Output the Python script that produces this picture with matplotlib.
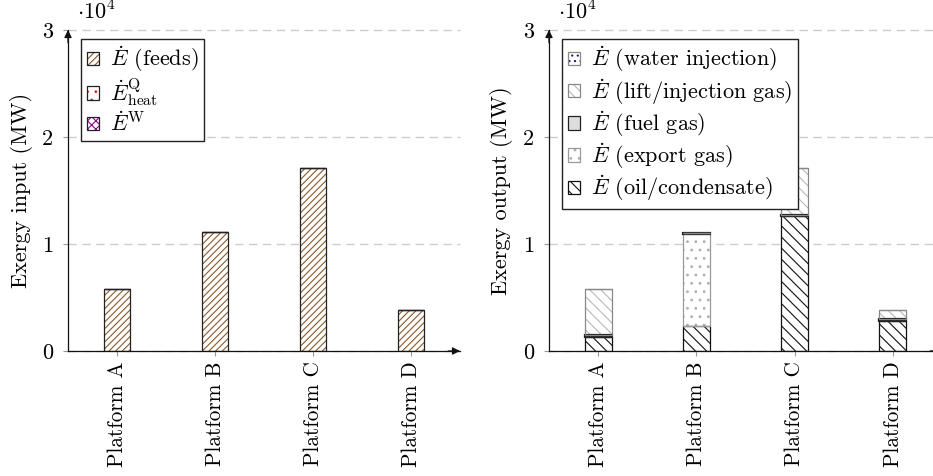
import matplotlib
matplotlib.use("Agg")
import matplotlib.pyplot as plt
from matplotlib.patches import Rectangle
import numpy as np

# ---------------------------------------------------------------- data (MW)
platforms = ["Platform A", "Platform B", "Platform C", "Platform D"]

# exergy input per platform
feeds = [5800, 11100, 17100, 3800]
heat = [0, 0, 0, 0]
work = [0, 0, 0, 0]

# exergy output per platform (stacked bottom -> top)
oil_condensate = [1340, 2360, 12580, 2830]
export_gas = [0, 8570, 0, 0]
fuel_gas = [120, 120, 120, 150]
lift_gas = [4340, 0, 4400, 820]
water_injection = [0, 0, 0, 0]

y_ticks = [0, 10000, 20000, 30000]
y_tick_labels = ["0", "1", "2", "3"]

# ---------------------------------------------------------------- style
plt.rcParams["font.family"] = "serif"
plt.rcParams["font.serif"] = ["cmr10"]
plt.rcParams["mathtext.fontset"] = "cm"
plt.rcParams["axes.formatter.use_mathtext"] = True
plt.rcParams["hatch.linewidth"] = 0.8
plt.rcParams["lines.scale_dashes"] = False

FS = 16
FS_TICK_X = 15.3
BAR_W = 0.275

fig = plt.figure(figsize=(9.33, 4.76), dpi=100)
W, H = 933.0, 476.0
ax_in = fig.add_axes([68 / W, 1 - 351 / H, 392 / W, 321 / H])
ax_out = fig.add_axes([549 / W, 1 - 351 / H, 393 / W, 321 / H])

x = np.arange(len(platforms))


def layer(ax, values, bottom, hatch, hcolor, face, edge, lw=0.9):
    """One stacked layer: hatch pattern drawn first, outline on top."""
    ax.bar(x, values, BAR_W, bottom=bottom, color=face, edgecolor=hcolor,
           hatch=hatch, linewidth=0, zorder=2)
    ax.bar(x, values, BAR_W, bottom=bottom, fill=False, edgecolor=edge,
           linewidth=lw, zorder=3)
    return np.asarray(bottom) + np.asarray(values)


def handle(hatch, hcolor, face, edge):
    p1 = Rectangle((0, 0), 1, 1, facecolor=face, edgecolor=hcolor,
                   hatch=hatch, linewidth=0)
    p2 = Rectangle((0, 0), 1, 1, fill=False, edgecolor=edge, linewidth=0.9)
    return (p1, p2)


# ---------------------------------------------------------------- input
styles_in = [
    ("/////", "#8b5a2b", "white", "#222222", r"$\dot{E}$ (feeds)"),
    ("..", "#e02020", "white", "#222222", r"$\dot{E}^{\mathrm{Q}}_{\mathrm{heat}}$"),
    ("xxxx", "#8b008b", "white", "#222222", r"$\dot{E}^{\mathrm{W}}$"),
]
bottom = np.zeros(len(platforms))
for vals, st in zip([feeds, heat, work], styles_in):
    bottom = layer(ax_in, vals, bottom, st[0], st[1], st[2], st[3])

# ---------------------------------------------------------------- output
styles_out = {
    "oil": ("\\\\\\", "#111111", "white", "#111111", r"$\dot{E}$ (oil/condensate)"),
    "export": ("..", "#b0b0b0", "white", "#999999", r"$\dot{E}$ (export gas)"),
    "fuel": (None, "#dddddd", "#dddddd", "#222222", r"$\dot{E}$ (fuel gas)"),
    "lift": ("\\\\\\", "#b8b8b8", "white", "#888888", r"$\dot{E}$ (lift/injection gas)"),
    "water": ("...", "#1a1a8c", "white", "#888888", r"$\dot{E}$ (water injection)"),
}
bottom = np.zeros(len(platforms))
for key, vals in [("oil", oil_condensate), ("export", export_gas),
                  ("fuel", fuel_gas), ("lift", lift_gas),
                  ("water", water_injection)]:
    st = styles_out[key]
    lw = 1.6 if key == "fuel" else 0.9
    bottom = layer(ax_out, vals, bottom, st[0], st[1], st[2], st[3], lw=lw)

# ---------------------------------------------------------------- axes
for ax, ylabel, lab_x in [(ax_in, "Exergy input (MW)", -35 / 392),
                          (ax_out, "Exergy output (MW)", -36 / 393)]:
    ax.set_xlim(-0.5, 3.5)
    ax.set_ylim(0, 30000)
    ax.set_xticks(x)
    ax.set_xticklabels(platforms, rotation=90, fontsize=FS_TICK_X)
    ax.set_yticks(y_ticks)
    ax.set_yticklabels(y_tick_labels, fontsize=FS)
    ax.tick_params(axis="both", direction="out", length=3.6, width=0.8,
                   color="#999999")
    ax.tick_params(axis="x", pad=4.0)
    ax.tick_params(axis="y", pad=7)
    for s in ("top", "right"):
        ax.spines[s].set_visible(False)
    for s in ("left", "bottom"):
        ax.spines[s].set_color("#111111")
        ax.spines[s].set_linewidth(0.9)
    ax.set_ylabel(ylabel, fontsize=FS)
    ax.yaxis.set_label_coords(lab_x, 0.5)
    ax.set_axisbelow(True)
    ax.yaxis.grid(True, color="#cccccc", linewidth=1.0, dashes=(6, 4))
    for gl in ax.get_ygridlines():
        gl.set_clip_on(False)
    ax.text(9 / 392, 1.034, r"$\cdot 10^{4}$", transform=ax.transAxes,
            fontsize=FS, ha="left", va="baseline")
    # arrow heads on the axis lines
    ax.annotate("", xy=(1.0, 0), xytext=(0.97, 0), xycoords="axes fraction",
                arrowprops=dict(arrowstyle="-|>", color="#111111", lw=0.9,
                                mutation_scale=11, shrinkA=0, shrinkB=0))
    ax.annotate("", xy=(0, 1.0), xytext=(0, 0.96), xycoords="axes fraction",
                arrowprops=dict(arrowstyle="-|>", color="#111111", lw=0.9,
                                mutation_scale=11, shrinkA=0, shrinkB=0))

leg_kw = dict(loc="upper left", fontsize=FS, frameon=True, fancybox=False,
              framealpha=1, edgecolor="#222222", borderaxespad=0,
              handlelength=0.55, handleheight=0.55, handletextpad=0.5,
              labelspacing=0.1, borderpad=0.25)

h_in = [handle(*st[:4]) for st in styles_in]
l_in = [st[4] for st in styles_in]
leg = ax_in.legend(h_in, l_in, bbox_to_anchor=(13 / 392, 1 - 9 / 321), **leg_kw)
leg.get_frame().set_linewidth(1.0)

order = ["water", "lift", "fuel", "export", "oil"]
h_out = [handle(*styles_out[k][:4]) for k in order]
l_out = [styles_out[k][4] for k in order]
leg = ax_out.legend(h_out, l_out, bbox_to_anchor=(13 / 393, 1 - 9 / 321), **leg_kw)
leg.get_frame().set_linewidth(1.0)

fig.savefig("out.png", dpi=100)
